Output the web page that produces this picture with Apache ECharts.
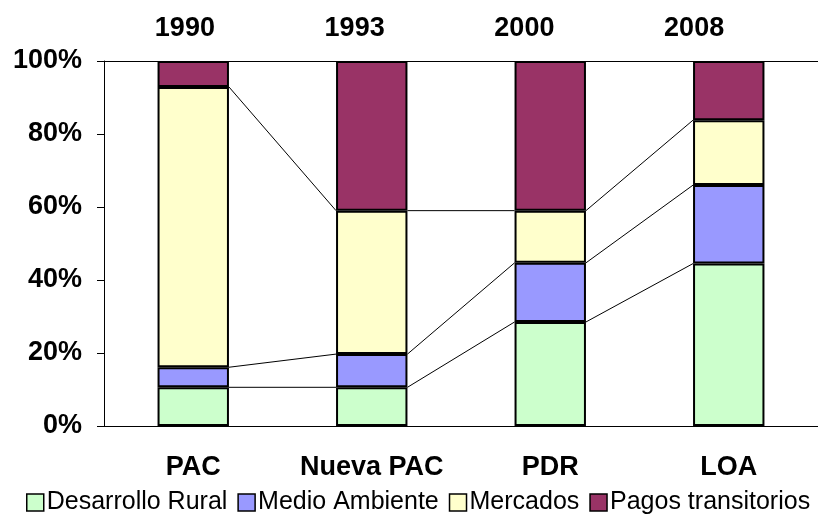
<!DOCTYPE html>
<html>
<head>
<meta charset="utf-8">
<script src="https://cdn.jsdelivr.net/npm/echarts@6/dist/echarts.min.js"></script>
<style>
  html, body { margin: 0; padding: 0; background: #fff; }
  #chart { width: 818px; height: 514px; }
</style>
</head>
<body>
<div id="chart"></div>
<script>
const categories = ['PAC', 'Nueva PAC', 'PDR', 'LOA']
const years = ['1990', '1993', '2000', '2008']
const seriesNames = ['Desarrollo Rural', 'Medio Ambiente', 'Mercados', 'Pagos transitorios']
const desarrolloRural = [10.6, 10.6, 28.5, 44.5]
const medioAmbiente = [5.5, 9.1, 16.2, 21.5]
const mercados = [76.8, 39.3, 14.3, 17.8]
const pagosTransitorios = [7.1, 41.0, 41.0, 16.2]
const colors = ['#CCFFCC', '#9999FF', '#FFFFCC', '#993366']

const font = '"Liberation Sans", Arial, sans-serif'
const chart = echarts.init(document.getElementById('chart'))

// cumulative tops per category, used for the series lines between bars
const stacks = [desarrolloRural, medioAmbiente, mercados, pagosTransitorios]
const cumulative = categories.map((c, i) => {
  let sum = 0
  return stacks.map(s => (sum += s[i]))
})
const connectorData = []
for (let i = 0; i < categories.length - 1; i++) {
  for (let k = 0; k < 3; k++) {
    connectorData.push([i, cumulative[i][k], cumulative[i + 1][k]])
  }
}

const barSeries = stacks.map((data, idx) => ({
  name: seriesNames[idx],
  type: 'bar',
  stack: 'total',
  data: data,
  barWidth: '40%',
  itemStyle: { color: colors[idx], borderColor: '#000', borderWidth: 2 },
  emphasis: { disabled: true }
}))

chart.setOption({
  animation: false,
  backgroundColor: '#fff',
  grid: [
    { left: 104, top: 61, width: 717, height: 365 },
    // year labels above the plot sit a bit left of the bars
    { left: 100, top: 61, width: 679, height: 365, show: false }
  ],
  legend: {
    bottom: -1,
    left: 26,
    padding: 0,
    itemWidth: 17,
    itemHeight: 17,
    itemGap: 10,
    icon: 'rect',
    data: seriesNames.map((n, i) => ({
      name: n,
      itemStyle: { color: colors[i], borderColor: '#000', borderWidth: 1.5 }
    })),
    textStyle: { fontFamily: font, fontSize: 25, color: '#000', padding: [0, 0, 0, -2] }
  },
  xAxis: [
    {
      type: 'category',
      gridIndex: 0,
      data: categories,
      position: 'bottom',
      axisLine: { lineStyle: { color: '#000', width: 1 } },
      axisTick: { show: false },
      axisLabel: { color: '#000', fontFamily: font, fontSize: 27, fontWeight: 'bold', margin: 28, interval: 0 }
    },
    {
      type: 'category',
      gridIndex: 0,
      data: categories,
      position: 'top',
      axisLine: { lineStyle: { color: '#000', width: 1 } },
      axisTick: { show: false },
      axisLabel: { show: false }
    },
    {
      type: 'category',
      gridIndex: 1,
      data: years,
      position: 'top',
      axisLine: { show: false },
      axisTick: { show: false },
      axisLabel: { color: '#000', fontFamily: font, fontSize: 27, fontWeight: 'bold', margin: 19, interval: 0 }
    }
  ],
  yAxis: [
    {
      type: 'value',
      gridIndex: 0,
      min: 0,
      max: 100,
      interval: 20,
      axisLine: { show: true, lineStyle: { color: '#000', width: 1 } },
      axisTick: { show: true, inside: false, length: 7, lineStyle: { color: '#000' } },
      splitLine: { show: false },
      axisLabel: {
        color: '#000', fontFamily: font, fontSize: 27, fontWeight: 'bold', margin: 22,
        formatter: '{value}%'
      }
    },
    {
      type: 'value',
      gridIndex: 1,
      min: 0,
      max: 100,
      show: false
    }
  ],
  series: barSeries.concat([{
    type: 'custom',
    silent: true,
    z: 1,
    data: connectorData,
    renderItem: function (params, api) {
      const i = api.value(0)
      const half = api.size([1, 0])[0] * 0.2
      const p0 = api.coord([i, api.value(1)])
      const p1 = api.coord([i + 1, api.value(2)])
      return {
        type: 'line',
        shape: { x1: p0[0] + half, y1: p0[1], x2: p1[0] - half, y2: p1[1] },
        style: { stroke: '#000', lineWidth: 1 }
      }
    }
  }])
})
</script>
</body>
</html>
